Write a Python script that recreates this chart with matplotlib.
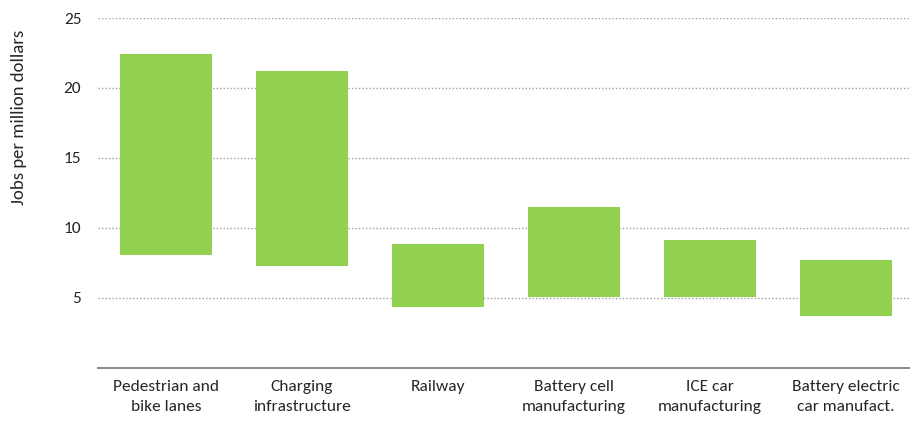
import matplotlib.pyplot as plt

# Range of jobs per million dollars for each investment type
categories = ["Pedestrian and\nbike lanes", "Charging\ninfrastructure", "Railway",
              "Battery cell\nmanufacturing", "ICE car\nmanufacturing",
              "Battery electric\ncar manufact."]
low = [8.05, 7.26, 4.36, 5.09, 5.09, 3.71]
high = [22.41, 21.19, 8.81, 11.46, 9.14, 7.69]
yticks = [5, 10, 15, 20, 25]

plt.rcParams['font.family'] = ['Carlito', 'Lato', 'DejaVu Sans']

fig = plt.figure(figsize=(9.1, 4.21), dpi=100)
# axes runs a bit past the right edge of the figure, as in the original
ax = fig.add_axes([98 / 910, 1 - 367.7 / 421, 816 / 910, 349.7 / 421])

x = range(len(categories))
heights = [h - l for h, l in zip(high, low)]
ax.bar(x, heights, bottom=low, width=0.67, color='#92D050', zorder=3)

ax.set_xlim(-0.5, len(categories) - 0.5)
ax.set_ylim(0, 25)
ax.set_yticks(yticks)
ax.set_xticks(list(x))
ax.set_xticklabels(categories, fontsize=12.5, color='#262626', linespacing=1.5)
ax.tick_params(axis='y', length=0, pad=12, labelsize=12.5, labelcolor='#262626')
ax.tick_params(axis='x', length=0, pad=9)

ax.grid(axis='y', linestyle=(0, (1, 1.5)), color='#a0a0a0', linewidth=1, zorder=0)
for s in ['top', 'right', 'left']:
    ax.spines[s].set_visible(False)
ax.spines['bottom'].set_color('#808080')
ax.spines['bottom'].set_linewidth(1.3)

fig.text(19 / 910, 1 - 117 / 421, "Jobs per million dollars", rotation=90,
         ha='center', va='center', fontsize=13.5, color='#262626')

fig.savefig("out.png", dpi=100)
